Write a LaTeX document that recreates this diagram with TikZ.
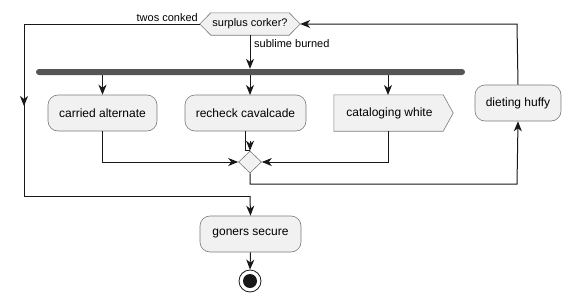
\documentclass[tikz,border=0pt]{standalone}
\usepackage{fontspec}
\setmainfont{Liberation Sans}
\usetikzlibrary{arrows.meta,shapes.geometric,calc,backgrounds}
\definecolor{boxfill}{HTML}{F1F1F1}
\definecolor{boxline}{HTML}{7A7A7A}
\definecolor{ink}{HTML}{181818}
\definecolor{barfill}{HTML}{555555}
\tikzset{
  act/.style={draw=boxline, fill=boxfill, rounded corners=10pt, line width=0.6pt,
    minimum height=36pt, inner sep=0pt, font=\fontsize{12}{14}\selectfont},
  shell/.style={draw=boxline, fill=boxfill, line width=0.6pt},
  flow/.style={draw=ink, line width=1pt, -{Stealth[length=10pt,width=8pt,inset=3pt]}},
  plain/.style={draw=ink, line width=1pt},
  lbl/.style={font=\fontsize{11}{13}\selectfont, inner sep=1pt},
}
\begin{document}
\begin{tikzpicture}[x=1pt,y=-1pt]
\useasboundingbox (0,0) rectangle (570,303);

% decision (hexagon outline drawn behind the text below)
\node[minimum width=100pt, minimum height=22pt, inner sep=0pt,
  font=\fontsize{11}{13}\selectfont] (q) at (250,24) {surplus corker?};

% fork bar
\node[fill=barfill, rounded corners=3pt, minimum width=429pt, minimum height=6pt, inner sep=0pt] (bar) at (250.5,72) {};

% activities
\node[act, minimum width=109pt] (ca) at (102.5,113) {carried alternate};
\node[act, minimum width=121pt] (rc) at (245.5,113) {recheck cavalcade};
\node[minimum width=119pt, minimum height=36pt, inner sep=0pt,
  font=\fontsize{12}{14}\selectfont, xshift=-4pt] (cw) at (393.5,113) {cataloging white};
\node[act, minimum width=86pt] (dh) at (518,103) {dieting huffy};
\node[act, minimum width=101pt] (gs) at (250.5,234) {goners secure};

\begin{scope}[on background layer]
  \draw[shell] (q.west) -- ([xshift=11pt]q.north west) -- ([xshift=-11pt]q.north east)
    -- (q.east) -- ([xshift=-11pt]q.south east) -- ([xshift=11pt]q.south west) -- cycle;
  \draw[shell] ([xshift=4pt]cw.north west) -- ([xshift=-6pt]cw.north east) -- ([xshift=4pt]cw.east)
    -- ([xshift=-6pt]cw.south east) -- ([xshift=4pt]cw.south west) -- cycle;
\end{scope}

% merge diamond
\node[shell, diamond, aspect=1, minimum width=23pt, minimum height=22pt, inner sep=0pt] (dm) at (250,162) {};

% end node
\node[circle, draw=ink, line width=0.8pt, minimum size=22pt, inner sep=0pt] (end) at (250,281) {};
\node[circle, fill=ink, minimum size=14pt, inner sep=0pt] (endin) at (250,281) {};

% helper points
\coordinate (lowL) at (24,196);
\coordinate (lowR) at (517,184);
\coordinate (top) at (517,24);

% branch: twos conked
\draw[plain] (q.west) -- (24,24) -- (lowL) -- (250,196);
\draw[flow] (24,90) -- (24,106);
\draw[flow] (250,196) -- (gs.north);
\node[lbl, anchor=south east] at (199,23) {twos conked};

% branch: sublime burned
\draw[flow] (q.south) -- (bar.north -| q.south);
\node[lbl, anchor=west] at (253,44) {sublime burned};

% fork outputs
\draw[flow] (bar.south -| ca.north) -- (ca.north);
\draw[flow] (bar.south -| 250,0) -- (250,95);
\draw[flow] (bar.south -| 388,0) -- (388,95);

% merge inputs
\draw[flow] (ca.south) |- (dm.west);
\draw[flow] (388,131) |- (dm.east);
\draw[plain] (245,131) -- (245,150) -- (250,150);
\draw[flow] ($(dm.north)+(0,-10)$) -- (dm.north);

% loop back
\draw[flow] (dm.south) |- (lowR) -- (dh.south);
\draw[flow] (dh.north) -- (top) -- (q.east);

% end
\draw[flow] (gs.south) -- (end.north);
\end{tikzpicture}
\end{document}
